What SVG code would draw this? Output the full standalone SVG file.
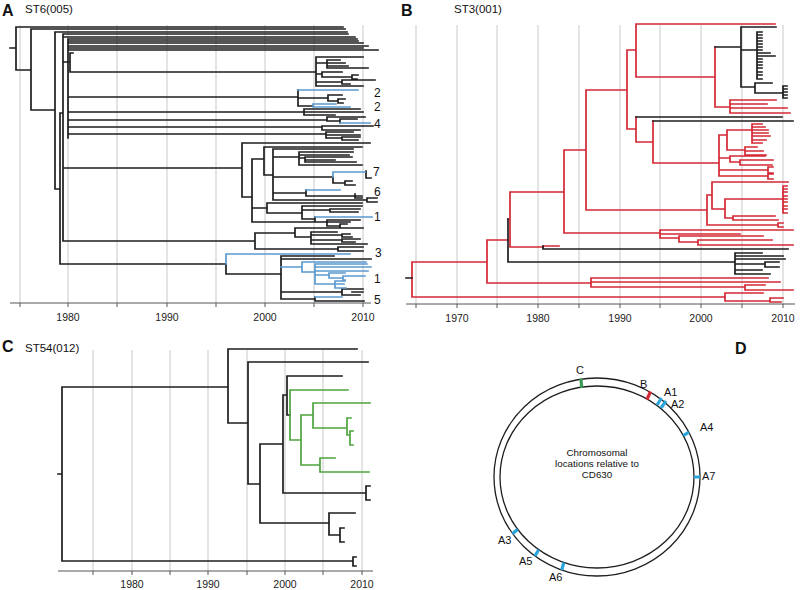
<svg xmlns="http://www.w3.org/2000/svg" width="800" height="590" viewBox="0 0 800 590">
<style>
.grid{stroke:#c9c9c9;stroke-width:1;fill:none}
.axis{stroke:#555;stroke-width:1;fill:none}
.k{stroke:#1e1e1e;stroke-width:1.7;fill:none;stroke-linecap:square}
.r{stroke:#d42835;stroke-width:1.7;fill:none;stroke-linecap:square}
.b{stroke:#5b9bd0;stroke-width:1.7;fill:none;stroke-linecap:square}
.g{stroke:#4ea43e;stroke-width:1.7;fill:none;stroke-linecap:square}
.title{font-family:"Liberation Sans",Arial,sans-serif;font-weight:bold;font-size:16px;fill:#111}
.st{font-family:"Liberation Sans",Arial,sans-serif;font-size:11.5px;fill:#111}
.yr{font-family:"Liberation Sans",Arial,sans-serif;font-size:10.5px;fill:#222;text-anchor:middle}
.num{font-family:"Liberation Sans",Arial,sans-serif;font-size:12px;fill:#111}
.dl{font-family:"Liberation Sans",Arial,sans-serif;font-size:11px;fill:#111}
.ctr{font-family:"Liberation Sans",Arial,sans-serif;font-size:9.8px;fill:#111;text-anchor:middle}
</style>
<rect width="800" height="590" fill="#fff"/>

<!-- Panel A -->
<g id="panelA">
<text class="title" x="2" y="16">A</text>
<text class="st" x="25" y="13">ST6(005)</text>
<path class="grid" d="M20,25V303 M68,25V303 M117,25V303 M167,25V303 M216,25V303 M265,25V303 M314,25V303 M363,25V303"/>
<path class="axis" d="M10,303H371 M20,303V307 M68,303V307 M117,303V307 M167,303V307 M216,303V307 M265,303V307 M314,303V307 M363,303V307"/>
<text class="yr" x="68" y="321">1980</text>
<text class="yr" x="167" y="321">1990</text>
<text class="yr" x="265" y="321">2000</text>
<text class="yr" x="363" y="321">2010</text>
<g id="treeA">
<path class="k" d="M10,48H16 M16,27V70 M16,27H343 M16,70H31 M31,29V110 M31,29H345 M31,110H55 M55,32V189 M55,32H347 M55,189H60 M60,113V264 M60,113H63 M63,34V241 M63,34H348 M63,37H355
M63,62H68 M68,39V138 M68,39H357 M68,41H358 M68,43H363 M68,46H368 M68,48H363 M68,50H378
M68,62H70 M70,53V72 M70,53H73 M70,72H316
M316,57V86 M316,57H363 M316,63H327 M327,60V68 M327,60H340 M327,63H345 M327,66H348 M327,68H368
M316,74H322 M322,72V77 M322,72H342 M322,77H352 M352,75V79 M352,75H358 M352,79H357
M316,82H342 M342,80V84 M342,80H375 M342,84H350 M316,86H363
M68,97H298 M298,90V106 M298,98H328 M328,95V101 M328,95H342 M328,101H338 M338,99V103 M338,99H345 M338,103H343 M298,106H313
M68,112H304 M304,109V115 M304,109H360 M304,112H363 M304,115H335
M68,120H327 M327,117V121 M327,117H365 M327,121H340 M340,119V123 M340,119H357
M68,127H322 M322,126V130 M322,126H373 M322,130H360
M68,134H326 M326,132V138 M326,132H353 M326,135H360 M326,138H342 M342,137V140 M342,137H360 M342,140H358
M63,168H242 M242,143V197 M242,143H370 M242,197H252 M252,159V222
M252,159H264 M264,147V175 M264,147H362 M264,175H273 M273,149V200 M273,149H353
M273,157H299 M299,152V165 M299,152H353 M299,155H349 M299,158H305 M305,157V162 M305,157H352 M305,160H335 M305,162H356 M299,165H362
M273,177H333 M333,177V183 M333,183H345 M345,181V185 M345,181H352 M345,185H355 M366,171V178 M366,178H371
M273,193H306 M306,190V196 M306,196H362 M355,194V198 M355,198H362
M273,200H367 M367,198V202 M367,198H377 M367,202H377
M252,208H267 M267,203V213 M267,203H362 M267,213H302 M302,206V219 M302,206H362 M302,210H330 M330,209V212 M330,209H360 M330,212H358 M302,219H315 M315,217V222 M315,222H350
M252,222H327 M327,220V226 M327,220H360 M327,226H340 M340,224V228 M340,224H347 M340,228H347
M63,241H255 M255,233V249 M255,233H295 M295,228V237 M295,228H363 M295,237H311 M311,232V244 M311,232H337 M311,235H342 M342,234V237 M342,234H350 M342,237H352 M311,240H342 M342,239V242 M342,239H360 M342,242H355 M311,244H367
M255,249H338 M338,247V251 M338,247H363 M338,251H363
M60,264H226 M226,264V274 M226,274H281 M281,256V299 M281,256H334 M281,259H371
M281,292H342 M342,289V295 M342,289H363 M342,295H360 M352,292H363
M281,299H315 M315,297V301 M315,301H364"/>
<path class="b" d="M298,90H358 M313,104V107 M313,104H336 M313,107H350 M340,123H370
M333,172V177 M333,172H365 M306,190H340 M315,217H372
M226,254V264 M226,254H350
M281,267H302 M302,262V272 M302,262H366 M302,272H315 M315,264V284 M315,264H367 M315,267H371 M315,271H368 M315,275H329 M329,273V278 M329,273H345 M329,278H343 M343,276V280 M343,276H365 M343,280H345 M315,284H335 M335,281V288 M335,281H345 M335,284H344 M335,288H346
M315,297H342"/>
</g>
<g id="labelsA">
<text class="num" x="374" y="97">2</text>
<text class="num" x="374" y="111">2</text>
<text class="num" x="374" y="128">4</text>
<text class="num" x="373" y="176">7</text>
<text class="num" x="374" y="196">6</text>
<text class="num" x="374" y="221">1</text>
<text class="num" x="375" y="257">3</text>
<text class="num" x="374" y="283">1</text>
<text class="num" x="374" y="304">5</text>
</g>
</g>

<!-- Panel B -->
<g id="panelB">
<text class="title" x="401" y="16">B</text>
<text class="st" x="454" y="13">ST3(001)</text>
<path class="grid" d="M416,25V304 M457,25V304 M497,25V304 M538,25V304 M579,25V304 M620,25V304 M660,25V304 M701,25V304 M742,25V304 M783,25V304"/>
<path class="axis" d="M406,304H795 M416,304V308 M457,304V308 M497,304V308 M538,304V308 M579,304V308 M620,304V308 M660,304V308 M701,304V308 M742,304V308 M783,304V308"/>
<text class="yr" x="457" y="322">1970</text>
<text class="yr" x="538" y="322">1980</text>
<text class="yr" x="620" y="322">1990</text>
<text class="yr" x="701" y="322">2000</text>
<text class="yr" x="783" y="322">2010</text>
<g id="treeB">
<path class="r" d="M412,262V296 M412,297H725 M725,293V301 M725,293H763 M725,301H770 M770,298V302 M770,298H783 M770,302H781
M412,262H487 M487,240V283 M487,283H591 M591,278V287 M591,278H768 M591,282H780 M591,287H745 M745,285V290 M745,285H765 M745,290H793
M487,240H508 M508,219H510 M510,192V247 M510,247H543 M543,246H559
M510,192H564 M564,150V233
M564,233H660 M660,230V238 M660,230H793 M660,234H740 M660,238H679 M679,236V242 M679,236H763 M679,242H698 M698,240V245 M698,240H772 M698,245H793
M564,150H586 M586,90V210
M586,210H707 M707,195V225 M707,225H778 M778,223V227 M778,223H783 M778,227H783
M707,195H712 M712,182V209 M712,182H788 M712,209H725 M725,199V218 M725,199H783 M783,186V213 M783,186H787 M783,189H787 M783,192H787 M783,196H787 M783,199H787 M783,202H787 M783,206H787 M783,209H787 M783,213H787 M725,218H733 M733,216V220 M733,216H775 M733,220H778
M586,90H627 M627,50V129
M627,50H636 M636,24V77 M636,24H775 M636,77H715 M715,47V107
M715,107H730 M730,100V113 M730,100H776 M730,104H767 M730,108H787 M730,113H790
M627,129H636 M636,117V142 M636,142H653 M653,121V163 M653,163H719 M719,135V176
M719,135H727 M727,130V150 M727,130H752 M752,124V143 M752,124H762 M752,127H765 M752,130H768 M752,133H768 M752,136H770 M752,140H766 M752,143H762 M727,150H745 M745,147V155 M745,147H757 M745,151H763 M745,155H766
M719,158H730 M730,156V162 M730,156H765 M730,162H740 M740,160V165 M740,160H773 M740,165H772
M719,170H768 M768,167V173 M768,167H773 M768,173H773 M719,176H768 M768,174V179 M768,174H773 M768,179H773"/>
<path class="k" d="M406,278H412
M508,219V262 M508,262H735 M735,253V274 M735,253H762 M735,256H783 M735,259H785 M735,264H765 M765,262V267 M765,262H779 M765,267H779 M735,270H762 M735,274H770
M543,246V249 M543,249H788
M715,47H741 M741,27V87 M741,27H776 M741,50H757 M757,32V79 M757,32H762 M757,35H762 M757,38H762 M757,41H762 M757,44H762 M757,47H762 M757,50H762 M757,53H770 M757,56H775 M757,59H762 M757,62H762 M757,65H762 M757,68H762 M757,72H762 M757,75H762 M757,79H762
M741,87H755 M755,83V93 M755,83H772 M755,93H783 M783,86V98 M783,86H787 M783,89H787 M783,92H787 M783,95H787 M783,98H787
M636,117H782 M653,121H793"/>
</g>
</g>

<!-- Panel C -->
<g id="panelC">
<text class="title" x="2" y="352">C</text>
<text class="st" x="25" y="352">ST54(012)</text>
<path class="grid" d="M93,350V571 M132,350V571 M170,350V571 M208,350V571 M247,350V571 M285,350V571 M323,350V571 M362,350V571"/>
<path class="axis" d="M58,571H373 M93,571V575 M132,571V575 M170,571V575 M208,571V575 M247,571V575 M285,571V575 M323,571V575 M362,571V575"/>
<text class="yr" x="132" y="588">1980</text>
<text class="yr" x="208" y="588">1990</text>
<text class="yr" x="285" y="588">2000</text>
<text class="yr" x="362" y="588">2010</text>
<g id="treeC">
<path class="k" d="M58,474H62 M62,387V561 M62,561H353 M353,557V566 M353,557H356 M353,566H356
M62,387H228 M228,349V423 M228,349H357 M228,423H248 M248,362V484 M248,362H368 M248,484H260 M260,444V523 M260,444H283 M283,395V493 M283,395H287 M287,376V415 M287,376H342 M287,415H290 M283,493H366 M366,486V500 M366,486H370 M366,500H370 M260,523H329 M329,513V535 M329,513H355 M329,535H340 M340,528V542 M340,528H344 M340,542H344"/>
<path class="g" d="M290,390V440 M290,390H348 M290,440H301 M301,415V465 M301,415H313 M313,403V428 M313,403H370 M313,428H347 M347,418V435 M347,418H351 M347,435H350 M350,431V445 M350,431H353 M350,445H353 M301,465H320 M320,458V472 M320,458H335 M320,472H369"/>
</g>
</g>

<!-- Panel D -->
<g id="panelD">
<text class="title" x="735" y="354">D</text>
<ellipse cx="597" cy="477" rx="103" ry="99" fill="none" stroke="#1e1e1e" stroke-width="1.3"/>
<ellipse cx="597" cy="477" rx="97" ry="91" fill="none" stroke="#1e1e1e" stroke-width="1.3"/>
<g stroke-width="3.2" fill="none">
<path stroke="#3a9a55" d="M581.8,388 L580.9,378.5"/>
<path stroke="#d42835" d="M647,399.5 L650.5,391.5"/>
<path stroke="#2aa6dc" d="M657,405 L661.5,398 M661,408 L666,401 M683.4,435.7 L689,432 M694,477 L700,477 M517.6,529.2 L512.6,533.8 M538.6,549.7 L535,556 M563.8,562.5 L561.8,570"/>
</g>
<text class="dl" x="576" y="374">C</text>
<text class="dl" x="640" y="388">B</text>
<text class="dl" x="664" y="396">A1</text>
<text class="dl" x="671" y="408">A2</text>
<text class="dl" x="700" y="431">A4</text>
<text class="dl" x="702" y="480">A7</text>
<text class="dl" x="498" y="544">A3</text>
<text class="dl" x="519" y="565">A5</text>
<text class="dl" x="549" y="581">A6</text>
<text class="ctr" x="597" y="456">Chromosomal</text>
<text class="ctr" x="597" y="467">locations relative to</text>
<text class="ctr" x="597" y="478">CD630</text>
</g>
</svg>
